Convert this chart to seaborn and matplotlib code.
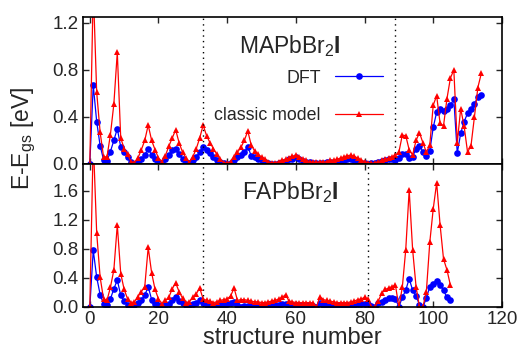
"""
Energy above ground state for MAPbBr2I and FAPbBr2I: DFT vs classic model.
"""

import numpy as np
import seaborn as sns
import matplotlib.pyplot as plt

# Data (E - E_gs in eV, one value per structure)
DFT_MA = [
    0.0, 0.67, 0.36, 0.155, 0.035, 0.025, 0.105, 0.20, 0.30, 0.145,
    0.10, 0.06, 0.02, 0.0, 0.02, 0.04, 0.075, 0.13, 0.075, 0.04,
    0.02, 0.01, 0.04, 0.075, 0.115, 0.13, 0.08, 0.04, 0.02, 0.005,
    0.035, 0.06, 0.10, 0.145, 0.115, 0.09, 0.06, 0.035, 0.02, 0.005,
    0.0, 0.01, 0.035, 0.055, 0.075, 0.10, 0.145, 0.07, 0.055, 0.04,
    0.03, 0.02, 0.005, 0.0, 0.0, 0.005, 0.02, 0.025, 0.04, 0.045,
    0.06, 0.04, 0.025, 0.02, 0.015, 0.01, 0.01, 0.005, 0.01, 0.015,
    0.015, 0.012, 0.015, 0.025, 0.035, 0.04, 0.045, 0.035, 0.02, 0.01,
    0.005, 0.0, 0.005, 0.01, 0.02, 0.025, 0.035, 0.045, 0.04, 0.035,
    0.05, 0.085, 0.085, 0.05, 0.06, 0.13, 0.155, 0.105, 0.07, 0.11,
    0.31, 0.44, 0.47, 0.45, 0.47, 0.50, 0.55, 0.093, 0.26, 0.36,
    0.43, 0.47, 0.51, 0.57, 0.59,
]
MODEL_MA = [
    0.0, 1.5, 0.61, 0.27, 0.06, 0.06, 0.25, 0.51, 0.95, 0.22,
    0.13, 0.08, 0.02, 0.01, 0.05, 0.12, 0.20, 0.33, 0.20, 0.12,
    0.05, 0.02, 0.07, 0.15, 0.22, 0.29, 0.18, 0.10, 0.05, 0.01,
    0.06, 0.13, 0.22, 0.33, 0.24, 0.18, 0.13, 0.08, 0.04, 0.01,
    0.005, 0.02, 0.06, 0.10, 0.14, 0.20, 0.28, 0.16, 0.11, 0.08,
    0.06, 0.04, 0.02, 0.01, 0.01, 0.02, 0.03, 0.04, 0.05, 0.065,
    0.075, 0.06, 0.045, 0.03, 0.02, 0.015, 0.012, 0.02, 0.015, 0.02,
    0.03, 0.035, 0.04, 0.05, 0.06, 0.07, 0.075, 0.065, 0.05, 0.035,
    0.02, 0.01, 0.005, 0.01, 0.02, 0.03, 0.04, 0.05, 0.06, 0.075,
    0.10, 0.245, 0.24, 0.12, 0.075, 0.20, 0.265, 0.18, 0.10, 0.16,
    0.50, 0.58, 0.345, 0.325, 0.555, 0.73, 0.80, 0.18, 0.47, 0.32,
    0.10, 0.155, 0.40, 0.65, 0.77,
]
DFT_FA = [
    0.0, 0.78, 0.41, 0.17, 0.04, 0.03, 0.11, 0.25, 0.37, 0.16,
    0.08, 0.02, 0.01, 0.02, 0.05, 0.10, 0.16, 0.28, 0.10, 0.04,
    0.02, 0.0, 0.02, 0.04, 0.10, 0.135, 0.08, 0.05, 0.02, 0.02,
    0.04, 0.06, 0.09, 0.05, 0.03, 0.02, 0.015, 0.02, 0.025, 0.03,
    0.04, 0.05, 0.07, 0.02, 0.0, 0.01, 0.01, 0.01, 0.01, 0.01,
    0.015, 0.015, 0.02, 0.02, 0.025, 0.03, 0.035, 0.045, 0.02, 0.02,
    0.02, 0.02, 0.02, 0.02, 0.02, 0.015, 0.0, 0.05, 0.03, 0.025,
    0.02, 0.02, 0.02, 0.02, 0.02, 0.02, 0.025, 0.03, 0.035, 0.04,
    0.045, 0.04, 0.014, 0.0, 0.05, 0.07, 0.10, 0.12, 0.12, 0.11,
    0.0, 0.13, 0.23, 0.39, 0.23, 0.15, 0.03, 0.0, 0.12, 0.28,
    0.32, 0.36, 0.30, 0.23, 0.13, 0.10,
]
MODEL_FA = [
    0.0, 2.3, 1.02, 0.41, 0.11, 0.09, 0.27, 0.51, 1.13, 0.46,
    0.24, 0.11, 0.06, 0.07, 0.14, 0.21, 0.28, 0.82, 0.47, 0.24,
    0.11, 0.04, 0.09, 0.13, 0.25, 0.33, 0.21, 0.12, 0.06, 0.07,
    0.13, 0.18, 0.26, 0.11, 0.09, 0.08, 0.06, 0.07, 0.09, 0.10,
    0.11, 0.15, 0.26, 0.09, 0.10, 0.10, 0.09, 0.08, 0.07, 0.07,
    0.06, 0.06, 0.07, 0.08, 0.09, 0.11, 0.13, 0.17, 0.08, 0.07,
    0.06, 0.06, 0.06, 0.06, 0.06, 0.05, 0.0, 0.14, 0.10, 0.09,
    0.08, 0.07, 0.06, 0.06, 0.06, 0.06, 0.07, 0.08, 0.10, 0.11,
    0.13, 0.11, 0.0, 0.0, 0.08, 0.19, 0.24, 0.26, 0.28, 0.30,
    0.0, 0.27, 0.79, 1.61, 0.79, 0.28, 0.0, 0.0, 0.21, 0.89,
    1.35, 1.71, 1.13, 0.66, 0.51, 0.30,
]

MA_LINES = [33, 89]
FA_LINES = [33, 81]
MA_YTICKS = [0.0, 0.4, 0.8, 1.2]
FA_YTICKS = [0.0, 0.4, 0.8, 1.2, 1.6]
XTICKS = [0, 20, 40, 60, 80, 100, 120]


def plot_panel(ax, dft, model, ymax, yticks, name, vlines, legend=False):
    """Draw one compound panel."""
    sns.lineplot(
        x=np.arange(len(dft)), y=dft, ax=ax, color="#0000ff",
        marker="o", markersize=4.8, markeredgewidth=0, linewidth=0.9,
        label="DFT",
    )
    sns.lineplot(
        x=np.arange(len(model)), y=model, ax=ax, color="#ff0000",
        marker="^", markersize=4.0, markeredgewidth=0, linewidth=0.9,
        label="classic model",
    )
    for xv in vlines:
        ax.axvline(xv, color="black", linewidth=1.0, linestyle=(0, (1, 3)))

    ax.set_xlim(-2, 120)
    ax.set_ylim(0, ymax)
    ax.set_xticks(XTICKS)
    ax.set_yticks(yticks)
    ax.set_yticklabels([f"{v:.1f}" for v in yticks])
    ax.tick_params(direction="in", top=True, right=True, length=4.5,
                   width=1.0, labelsize=13.5, pad=3)
    for sp in ax.spines.values():
        sp.set_linewidth(1.2)
        sp.set_color("black")
    ax.set_xlabel("")
    ax.set_ylabel("")
    ax.text(0.494, 0.80, name, transform=ax.transAxes, ha="center",
            va="center", fontsize=16.5)

    if legend:
        ax.legend(
            loc="center right", bbox_to_anchor=(0.716, 0.456),
            markerfirst=False, frameon=False, fontsize=12.8,
            handlelength=2.7, labelspacing=1.15, borderpad=0,
            borderaxespad=0, handletextpad=0.8,
        )
    else:
        ax.get_legend().remove()


def main():
    sns.set_style("ticks")
    plt.rcParams["font.family"] = ["Liberation Sans", "DejaVu Sans"]
    plt.rcParams["mathtext.fontset"] = "custom"
    plt.rcParams["mathtext.rm"] = "Liberation Sans"
    plt.rcParams["mathtext.it"] = "Liberation Sans"
    plt.rcParams["mathtext.bf"] = "Liberation Sans:bold"

    fig = plt.figure(figsize=(5.25, 3.54), dpi=100)
    left, width = 0.158, 0.798
    ax_top = fig.add_axes([left, 0.537, width, 0.415])
    ax_bot = fig.add_axes([left, 0.133, width, 0.404])

    plot_panel(ax_top, DFT_MA, MODEL_MA, 1.25, MA_YTICKS,
               "MAPbBr$_2$$\\mathbf{I}$", MA_LINES, legend=True)
    plot_panel(ax_bot, DFT_FA, MODEL_FA, 1.97, FA_YTICKS,
               "FAPbBr$_2$$\\mathbf{I}$", FA_LINES)

    ax_top.set_xticklabels([])
    ax_bot.set_xlabel("structure number", fontsize=17, labelpad=-1)
    fig.text(0.045, 0.61, "E-E$_{\\rm gs}$ [eV]", rotation=90,
             ha="center", va="center", fontsize=16.5)

    fig.savefig("out.png", dpi=100)
    plt.close(fig)


if __name__ == "__main__":
    main()
